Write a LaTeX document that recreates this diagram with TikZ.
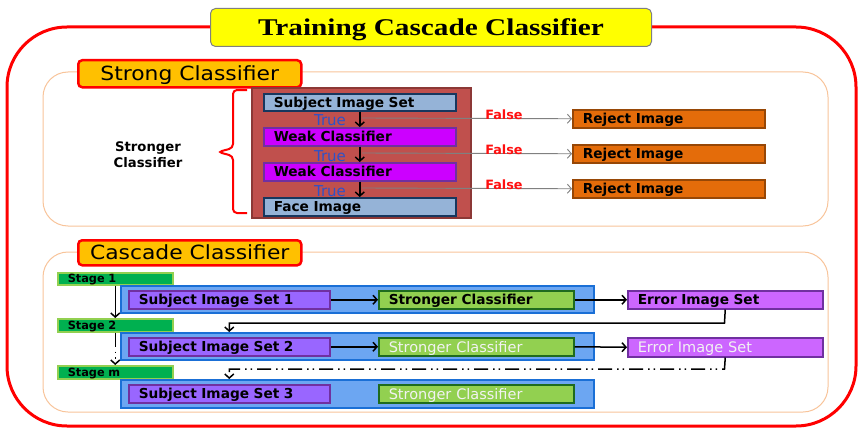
\documentclass[tikz,border=0pt]{standalone}
\usepackage{fontspec}
\setmainfont{DejaVu Sans}
\newfontfamily\titlefont[FakeStretch=1.22]{Liberation Serif}
\newfontfamily\labfont[FakeStretch=1.12]{DejaVu Sans}
\usetikzlibrary{arrows.meta}
\definecolor{titley}{HTML}{FFFF00}
\definecolor{titleb}{HTML}{808080}
\definecolor{labfill}{HTML}{FFC000}
\definecolor{panelb}{HTML}{F8C49A}
\definecolor{drkfill}{HTML}{C0504D}
\definecolor{drkb}{HTML}{8C3836}
\definecolor{lblue}{HTML}{95B3D7}
\definecolor{lblueb}{HTML}{17375E}
\definecolor{magfill}{HTML}{CC00FF}
\definecolor{purb}{HTML}{7030A0}
\definecolor{rejfill}{HTML}{E46C0A}
\definecolor{rejb}{HTML}{974706}
\definecolor{stgfill}{HTML}{00B050}
\definecolor{stgb}{HTML}{92D050}
\definecolor{bluefill}{HTML}{6CA6F2}
\definecolor{blueb}{HTML}{1A6FD6}
\definecolor{subjfill}{HTML}{9966FF}
\definecolor{grnfill}{HTML}{92D050}
\definecolor{grnb}{HTML}{1E6B1E}
\definecolor{errfill}{HTML}{CC66FF}
\definecolor{truec}{HTML}{2E52C8}
\definecolor{falsec}{HTML}{FF1010}
\definecolor{wtext}{HTML}{F2F2F2}
\begin{document}
\begin{tikzpicture}[x=1pt,y=-1pt,
  box/.style={draw, anchor=north west, inner xsep=10pt, inner ysep=0pt, align=left, line width=1.5pt,
    font=\fontsize{13.7}{16}\selectfont\bfseries, text height=10pt, text depth=0pt},
  wbox/.style={box, font=\fontsize{14.5}{16}\selectfont, text=wtext, text height=10.5pt},
  stg/.style={draw=stgb, fill=stgfill, anchor=north west, inner xsep=10pt, inner ysep=0pt, align=left,
    line width=1.5pt, font=\fontsize{11.3}{13}\selectfont\bfseries, text height=8.2pt, text depth=0pt,
    text width=95pt, minimum height=12pt},
  plain/.style={draw, anchor=north west, inner sep=0pt},
  lab/.style={draw=red, fill=labfill, line width=2.5pt, rounded corners=4pt, anchor=north west,
    inner sep=0pt, font=\labfont\fontsize{19.5}{22}\selectfont, text height=14pt, text depth=0pt},
  panel/.style={draw=panelb, line width=1pt, fill=white, rounded corners=25pt},
  arr/.style={line width=1.5pt, -{Straight Barb[length=4pt,width=9pt]}},
  garr/.style={line width=0.9pt, draw=titleb, -{Straight Barb[length=4pt,width=9pt]}},
  dashdot/.style={dash pattern=on 14pt off 5pt on 1.5pt off 4pt on 1.5pt off 5pt},
  truet/.style={text=truec, font=\fontsize{15}{17}\selectfont, inner sep=0pt},
  falset/.style={text=falsec, font=\fontsize{12.8}{15}\selectfont\bfseries, inner sep=0pt}
]
\useasboundingbox (0,0) rectangle (859,428);
% outer frame
\draw[red, line width=3pt, rounded corners=60pt] (7,27) rectangle (856,426);
\node[draw=titleb, fill=titley, line width=1pt, rounded corners=5pt, anchor=north west, inner sep=0pt,
  minimum width=441pt, minimum height=38pt, font=\titlefont\bfseries\fontsize{24}{28}\selectfont,
  text height=16pt, text depth=0pt] (title) at (210,8) {Training Cascade Classifier};

% upper panel
\draw[panel] (43,72) rectangle (828,226);
\node[lab, minimum width=223pt, minimum height=27pt] (lab1) at (77,59) {Strong Classifier};
\node[font=\fontsize{13.2}{16}\selectfont\bfseries, align=center, inner sep=0pt] (sctext) at (148,155) {Stronger\\Classifier};
\draw[red, line width=2pt, rounded corners=4pt] (247,90) -- (233,90) -- (233,148) -- (218,152) -- (233,156) -- (233,213) -- (247,213);
\node[plain, draw=drkb, fill=drkfill, line width=1.5pt, minimum width=219pt, minimum height=130pt] (sc) at (251,87) {};
\node[box, draw=lblueb, fill=lblue, text width=172pt, minimum height=17pt] (s0) at (263,93) {Subject Image Set};
\node[box, draw=purb, fill=magfill, text width=172pt, minimum height=18pt] (w1) at (263,127) {Weak Classifier};
\node[box, draw=purb, fill=magfill, text width=172pt, minimum height=18pt] (w2) at (263,162) {Weak Classifier};
\node[box, draw=lblueb, fill=lblue, text width=172pt, minimum height=18pt] (fi) at (263,197) {Face Image};
\draw[arr] (s0.south) -- (w1.north);
\draw[arr] (w1.south) -- (w2.north);
\draw[arr] (w2.south) -- (fi.north);
\node[box, draw=rejb, fill=rejfill, text width=172pt, minimum height=18pt] (r1) at (572,109) {Reject Image};
\node[box, draw=rejb, fill=rejfill, text width=172pt, minimum height=18pt] (r2) at (572,144) {Reject Image};
\node[box, draw=rejb, fill=rejfill, text width=172pt, minimum height=18pt] (r3) at (572,179) {Reject Image};
\coordinate (g1) at (362,118);
\coordinate (g2) at (362,153);
\coordinate (g3) at (362,188);
\draw[garr] (g1) -- (r1.west);
\draw[garr] (g2) -- (r2.west);
\draw[garr] (g3) -- (r3.west);
\node[truet] (t1) at (330,120) {True};
\node[truet] (t2) at (330,156) {True};
\node[truet] (t3) at (330,191) {True};
\node[falset] (f1) at (504,115) {False};
\node[falset] (f2) at (504,150) {False};
\node[falset] (f3) at (504,185) {False};

% lower panel
\draw[panel] (43,252) rectangle (828,412);
\node[lab, minimum width=223pt, minimum height=25pt] (lab2) at (77,239) {Cascade Classifier};
\node[stg] (st1) at (57,272) {Stage 1};
\node[stg, minimum height=13pt] (st2) at (57,318) {Stage 2};
\node[stg, minimum height=13pt] (stm) at (57,365) {Stage m};
\node[plain, draw=blueb, fill=bluefill, line width=1.5pt, minimum width=473pt, minimum height=27pt] (b1) at (120,285) {};
\node[plain, draw=blueb, fill=bluefill, line width=1.5pt, minimum width=473pt, minimum height=27pt] (b2) at (120,332) {};
\node[plain, draw=blueb, fill=bluefill, line width=1.5pt, minimum width=473pt, minimum height=28pt] (b3) at (120,379) {};
\node[box, draw=purb, fill=subjfill, text width=181pt, minimum height=18pt] (j1) at (128,290) {Subject Image Set 1};
\node[box, draw=purb, fill=subjfill, text width=181pt, minimum height=18pt] (j2) at (128,337) {Subject Image Set 2};
\node[box, draw=purb, fill=subjfill, text width=181pt, minimum height=18pt] (j3) at (128,384) {Subject Image Set 3};
\node[box, draw=grnb, fill=grnfill, text width=175pt, minimum height=18pt] (k1) at (378,290) {Stronger Classifier};
\node[wbox, draw=grnb, fill=grnfill, text width=175pt, minimum height=18pt] (k2) at (378,337) {Stronger Classifier};
\node[wbox, draw=grnb, fill=grnfill, text width=175pt, minimum height=18pt] (k3) at (378,384) {Stronger Classifier};
\node[box, draw=purb, fill=errfill, text width=175pt, minimum height=18pt] (e1) at (627,290) {Error Image Set};
\node[wbox, draw=purb, fill=errfill, text width=175pt, minimum height=19pt] (e2) at (627,337) {Error Image Set};
\draw[arr] (j1.east) -- (k1.west);
\draw[arr] (k1.east) -- (e1.west);
\draw[arr] (j2.east) -- (k2.west);
\draw[arr] (k2.east) -- (e2.west);
\coordinate (c1) at (724.5,323);
\coordinate (c2) at (724.5,369);
\draw[arr] (e1.south) -- (c1) -| (j2.north |- b2.north);
\draw[arr, dashdot] (e2.south) -- (c2) -| (j3.north |- b3.north);
\draw[arr] (st1.south) -- (st2.north);
\draw[arr, dashdot] (st2.south) -- (stm.north);
\end{tikzpicture}
\end{document}
